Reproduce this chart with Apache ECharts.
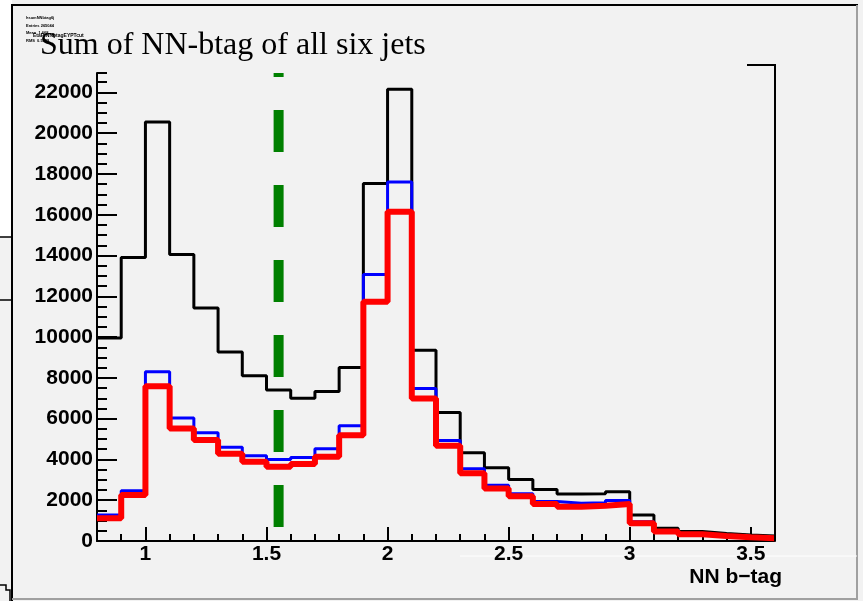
<!DOCTYPE html>
<html>
<head>
<meta charset="utf-8">
<script src="https://cdn.jsdelivr.net/npm/echarts@6/dist/echarts.min.js"></script>
<style>
html,body{margin:0;padding:0;background:#f2f2f2;}
#chart{width:863px;height:601px;}
</style>
</head>
<body>
<div id="chart"></div>
<script>
// bin edges (NN b-tag), 28 bins
const binEdges = [0.8,0.9,1.0,1.1,1.2,1.3,1.4,1.5,1.6,1.7,1.8,1.9,2.0,2.1,2.2,2.3,2.4,2.5,2.6,2.7,2.8,2.9,3.0,3.1,3.2,3.3,3.4,3.5,3.6];
const blackHist = [9950,13900,20550,14050,11430,9270,8100,7400,7000,7330,8510,17530,22150,9360,6300,4330,3590,3020,2530,2300,2320,2420,1270,620,460,370,290,240];
const blueHist  = [1270,2470,8300,6030,5310,4600,4180,4000,4100,4520,5650,13070,17610,7480,4930,3540,2730,2320,1940,1850,1880,1980,950,500,350,260,190,140];
const redHist   = [1110,2250,7590,5520,4950,4280,3890,3640,3770,4130,5190,11730,16140,6990,4670,3320,2580,2200,1810,1680,1730,1810,870,460,330,245,180,130];
const cutValue = 1.55;
const xMajorTicks = [1,1.5,2,2.5,3,3.5];
const yMajorTicks = [0,2000,4000,6000,8000,10000,12000,14000,16000,18000,20000,22000];
const xMin = 0.8, xMax = 3.6, yMin = 0, yMax = 22950;
const titleText = 'Sum of NN-btag of all six jets';
const xTitle = 'NN b\u2212tag';

function histPoints(vals){
  return binEdges.map((e,i)=>[e, vals[Math.min(i, vals.length-1)]]);
}

const chart = echarts.init(document.getElementById('chart'), null, {renderer:'canvas'});
const gridRect = {left:97, right:88, top:73, bottom:60};
const lblFont = {fontSize:21, fontWeight:'bold', fontFamily:'Liberation Sans, Arial, sans-serif', color:'#000'};

const option = {
  backgroundColor:'#f2f2f2',
  animation:false,
  grid:[Object.assign({}, gridRect), Object.assign({}, gridRect)],
  xAxis:[
    {gridIndex:0, type:'value', min:xMin, max:xMax, interval:0.1,
     axisLine:{show:false}, axisLabel:{show:false}, splitLine:{show:false},
     axisTick:{inside:true, length:7, lineStyle:{color:'#000', width:2}}},
    {gridIndex:1, type:'value', min:xMin, max:xMax,
     axisLine:{show:true, onZero:false, lineStyle:{color:'#000', width:2}},
     axisTick:{inside:true, length:14, customValues:xMajorTicks, lineStyle:{color:'#000', width:2}},
     axisLabel:Object.assign({customValues:xMajorTicks, margin:3, showMinLabel:true, showMaxLabel:true,
       formatter:(v)=>String(v)}, lblFont),
     splitLine:{show:false}}
  ],
  yAxis:[
    {gridIndex:0, type:'value', min:yMin, max:yMax, interval:500,
     axisLine:{show:false}, axisLabel:{show:false}, splitLine:{show:false},
     axisTick:{inside:true, length:10, lineStyle:{color:'#000', width:2}}},
    {gridIndex:1, type:'value', min:yMin, max:yMax,
     axisLine:{show:true, onZero:false, lineStyle:{color:'#000', width:2}},
     axisTick:{inside:true, length:20, customValues:yMajorTicks, lineStyle:{color:'#000', width:2}},
     axisLabel:Object.assign({customValues:yMajorTicks, margin:4, showMinLabel:true, showMaxLabel:true,
       formatter:(v)=>String(v)}, lblFont),
     splitLine:{show:false}}
  ],
  series:[
    {type:'line', xAxisIndex:1, yAxisIndex:1, step:'end', symbol:'none', data:histPoints(blackHist),
     lineStyle:{color:'#000', width:3}, z:2},
    {type:'line', xAxisIndex:1, yAxisIndex:1, step:'end', symbol:'none', data:histPoints(blueHist),
     lineStyle:{color:'#0000ff', width:3}, z:3},
    {type:'line', xAxisIndex:1, yAxisIndex:1, step:'end', symbol:'none', data:histPoints(redHist),
     lineStyle:{color:'#ff0000', width:6}, z:4},
    {type:'line', xAxisIndex:1, yAxisIndex:1, symbol:'none', data:[[cutValue, yMax],[cutValue, yMin]],
     lineStyle:{color:'#008000', width:10, type:[42,33], dashOffset:38, cap:'butt'}, z:5}
  ],
  graphic:[
    {type:'rect', z:-10, shape:{x:0, y:0, width:12, height:237}, style:{fill:'#ffffff'}},
    {type:'line', z:-5, shape:{x1:0, y1:237, x2:12, y2:237}, style:{stroke:'#000', lineWidth:1.5}},
    {type:'line', z:-5, shape:{x1:0, y1:300, x2:12, y2:300}, style:{stroke:'#000', lineWidth:1.5}},
    {type:'polyline', z:-5, shape:{points:[[0,585],[6,585],[6,590],[10,590],[10,601]]}, style:{stroke:'#000', lineWidth:1.5, fill:null}},
    {type:'line', z:-5, shape:{x1:12, y1:5, x2:12, y2:601}, style:{stroke:'#000', lineWidth:2}},
    {type:'line', z:-5, shape:{x1:11, y1:5, x2:858, y2:5}, style:{stroke:'#000', lineWidth:2}},
    {type:'line', z:-5, shape:{x1:857, y1:5, x2:857, y2:600}, style:{stroke:'#a0a0a0', lineWidth:2}},
    {type:'line', z:-5, shape:{x1:12, y1:599, x2:858, y2:599}, style:{stroke:'#a0a0a0', lineWidth:2}},
    {type:'line', z:-5, shape:{x1:460, y1:556, x2:857, y2:556}, style:{stroke:'#ffffff', lineWidth:1}},
    {type:'line', z:10, shape:{x1:747, y1:65, x2:775, y2:65}, style:{stroke:'#000', lineWidth:2}},
    {type:'line', z:10, shape:{x1:775, y1:64, x2:775, y2:541}, style:{stroke:'#000', lineWidth:2}},
    {type:'text', z:10, style:{x:26, y:18, text:'hsumNNbtag6j', font:'bold 4px Liberation Sans', fill:'#000', textVerticalAlign:'middle'}},
    {type:'text', z:10, style:{x:26, y:26, text:'Entries 265044', font:'bold 4px Liberation Sans', fill:'#000', textVerticalAlign:'middle'}},
    {type:'text', z:10, style:{x:26, y:33, text:'Mean  1.668', font:'bold 4px Liberation Sans', fill:'#000', textVerticalAlign:'middle'}},
    {type:'text', z:10, style:{x:33, y:36, text:'EtaPtNNbtagEYPTcut', font:'bold 5px Liberation Sans', fill:'#000', textVerticalAlign:'middle'}},
    {type:'text', z:10, style:{x:26, y:41, text:'RMS  0.5388', font:'bold 4px Liberation Sans', fill:'#000', textVerticalAlign:'middle'}},
    {type:'text', z:11, style:{x:40, y:46, text:titleText, font:'32px Liberation Serif', fill:'#000', textVerticalAlign:'middle'}},
    {type:'text', z:10, style:{x:782, y:577, text:xTitle, font:'bold 21px Liberation Sans', fill:'#000', textAlign:'right', textVerticalAlign:'middle'}}
  ]
};
chart.setOption(option);
</script>
</body>
</html>
